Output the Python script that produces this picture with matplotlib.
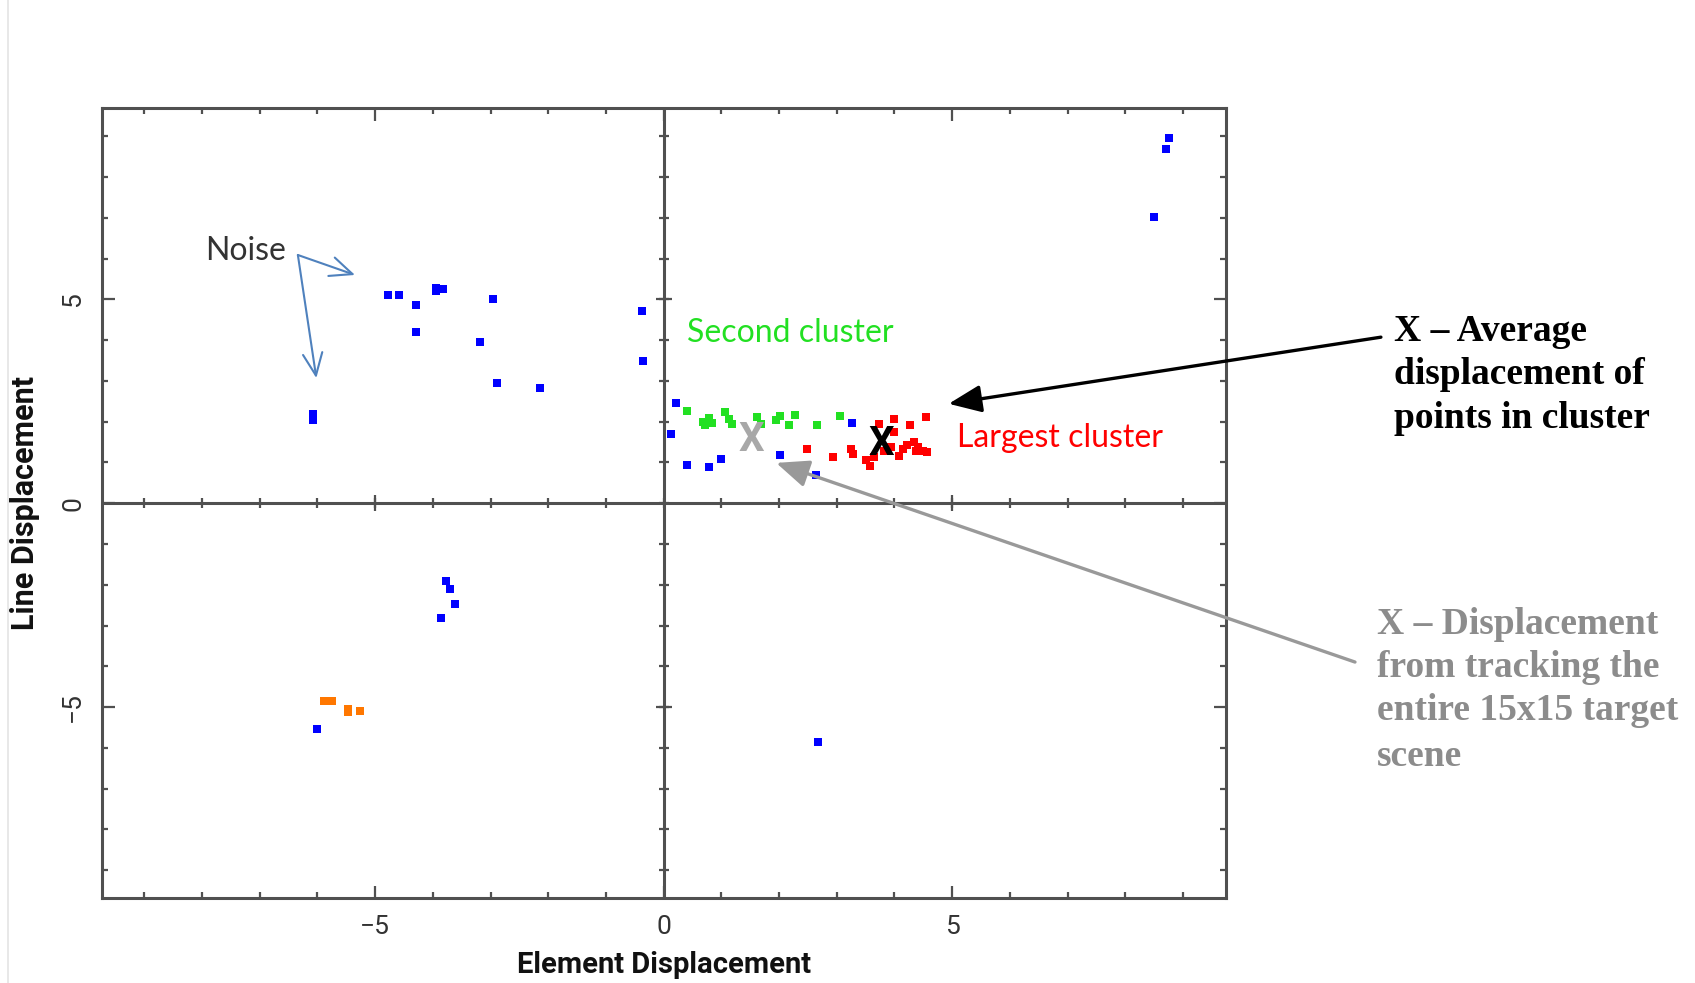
import numpy as np
import matplotlib
matplotlib.use("Agg")
import matplotlib.pyplot as plt
from matplotlib.lines import Line2D

# noise points (blue)
blue_x = [-6.08, -6.08, -4.77, -4.59, -4.30, -4.30, -3.94, -3.82, -3.94, -2.95,
          -3.19, -2.89, -2.14, -0.38, -0.36,
          0.22, 0.13, 0.40, 0.79, 0.99, 2.02, 2.64, 3.26,
          8.76, 8.70, 8.50,
          -3.77, -3.70, -3.62, -3.86, -6.00, 2.68]
blue_y = [2.20, 2.05, 5.11, 5.11, 4.86, 4.19, 5.29, 5.25, 5.20, 5.01,
          3.95, 2.94, 2.82, 4.72, 3.48,
          2.47, 1.70, 0.94, 0.88, 1.09, 1.19, 0.69, 1.97,
          8.97, 8.69, 7.03,
          -1.91, -2.10, -2.48, -2.81, -5.55, -5.85]

# second cluster (green)
green_x = [0.40, 0.68, 0.78, 0.83, 0.72, 1.06, 1.13, 1.19, 1.62, 1.69,
           1.95, 2.02, 2.17, 2.28, 2.65, 3.05]
green_y = [2.26, 2.00, 2.08, 1.98, 1.93, 2.24, 2.07, 1.95, 2.12, 1.95,
           2.05, 2.13, 1.91, 2.16, 1.93, 2.13]

# largest cluster (red)
red_x = [2.48, 2.93, 3.25, 3.28, 3.51, 3.58, 3.64, 3.74, 3.81, 3.94, 3.99,
         4.00, 4.07, 4.14, 4.21, 4.27, 4.34, 4.37, 4.40, 4.50, 4.54, 4.57]
red_y = [1.33, 1.13, 1.33, 1.21, 1.05, 0.92, 1.13, 1.95, 1.29, 1.37, 2.07,
         1.74, 1.17, 1.33, 1.42, 1.91, 1.50, 1.29, 1.37, 1.29, 2.12, 1.25]

# small cluster (orange)
orange_x = [-5.88, -5.75, -5.47, -5.47, -5.27]
orange_y = [-4.84, -4.85, -5.05, -5.12, -5.10]

# cluster average / whole-scene displacement
avg_xy = (3.77, 1.46)
scene_xy = (1.52, 1.54)

axis_col = '#505050'
sans = ['Roboto', 'DejaVu Sans']
label_font = ['Lato', 'DejaVu Sans']
serif = ['Liberation Serif', 'DejaVu Serif']

fig = plt.figure(figsize=(16.95, 9.83), dpi=100)
ax = fig.add_axes([0.06, 0.0862, 0.6631, 0.8037])
ax.set_xlim(-9.74, 9.74)
ax.set_ylim(-9.69, 9.69)

for sp in ax.spines.values():
    sp.set_color(axis_col)
    sp.set_linewidth(2.2)

ax.set_xticks([-5, 0, 5])
ax.set_yticks([-5, 0, 5])
ax.set_xticks(np.arange(-9, 10), minor=True)
ax.set_yticks(np.arange(-9, 10), minor=True)
ax.tick_params(which='both', direction='in', top=True, right=True,
               color=axis_col, width=1.6)
ax.tick_params(which='major', length=9, pad=12, labelsize=19)
ax.tick_params(which='minor', length=4.5)
for lab in ax.get_xticklabels() + ax.get_yticklabels():
    lab.set_family(sans)
    lab.set_color('#333333')
for lab in ax.get_yticklabels():
    lab.set_rotation(90)
    lab.set_va('center')

# centre axes with their own ticks
ax.axhline(0, color=axis_col, lw=2.2, zorder=1)
ax.axvline(0, color=axis_col, lw=2.2, zorder=1)
minor = np.arange(-9, 10)
ax.plot(minor, np.zeros(len(minor)), ls='none', marker='|', ms=7,
        mew=1.6, color=axis_col, zorder=1)
ax.plot(np.zeros(len(minor)), minor, ls='none', marker='_', ms=7,
        mew=1.6, color=axis_col, zorder=1)
ax.plot([-5, 5], [0, 0], ls='none', marker='|', ms=12, mew=1.6,
        color=axis_col, zorder=1)
ax.plot([0, 0], [-5, 5], ls='none', marker='_', ms=12, mew=1.6,
        color=axis_col, zorder=1)

ax.set_xlabel('Element Displacement', fontsize=21, fontweight='bold',
              family=sans, color='#111111')
ax.set_ylabel('Line Displacement', fontsize=22, fontweight='bold',
              family=sans, color='#111111')
ax.xaxis.set_label_coords(0.5, -0.085)
ax.xaxis.label.set_va('center')
ax.yaxis.set_label_coords(-0.068, 0.5)
ax.yaxis.label.set_va('center')

ms = 5.5
ax.plot(blue_x, blue_y, ls='none', marker='s', ms=ms, mew=0, color='#0000ff', zorder=3)
ax.plot(green_x, green_y, ls='none', marker='s', ms=ms, mew=0, color='#22e022', zorder=3)
ax.plot(red_x, red_y, ls='none', marker='s', ms=ms, mew=0, color='#ff0000', zorder=3)
ax.plot(orange_x, orange_y, ls='none', marker='s', ms=ms, mew=0, color='#ff7700', zorder=3)

ax.text(scene_xy[0], scene_xy[1], 'X', ha='center', va='center', fontsize=29,
        fontweight='bold', family=sans, color='#a8a8a8', zorder=4)
ax.text(avg_xy[0], avg_xy[1], 'X', ha='center', va='center', fontsize=29,
        fontweight='bold', family=sans, color='black', zorder=4)

# annotations
ax.text(0.40, 4.18, 'Second cluster', fontsize=23, family=label_font,
        color='#22e022', va='center', ha='left')
ax.text(5.08, 1.61, 'Largest cluster', fontsize=23, family=label_font,
        color='#ff0000', va='center', ha='left')
ax.text(-7.95, 6.19, 'Noise', fontsize=23, family=label_font,
        color='#333333', va='center', ha='left')

noise_col = '#4f81bd'
for end in [(-5.35, 5.60), (-6.02, 3.07)]:
    ax.annotate('', xy=end, xytext=(-6.34, 6.09),
                arrowprops=dict(arrowstyle='->,head_length=0.8,head_width=0.35',
                                color=noise_col, lw=1.5, mutation_scale=20,
                                shrinkA=0, shrinkB=0))

ax.annotate('', xy=(4.94, 2.44), xycoords='data',
            xytext=(0.8147, 0.657), textcoords='figure fraction',
            arrowprops=dict(arrowstyle='-|>,head_length=1.0,head_width=0.42',
                            color='black', lw=2.4, mutation_scale=20,
                            shrinkA=0, shrinkB=0))
ax.annotate('', xy=(1.95, 0.99), xycoords='data',
            xytext=(0.7994, 0.3265), textcoords='figure fraction',
            arrowprops=dict(arrowstyle='-|>,head_length=1.0,head_width=0.42',
                            color='#999999', lw=2.4, mutation_scale=20,
                            shrinkA=0, shrinkB=0))

fig.text(0.8224, 1 - 375 / 983, 'X \u2013 Average\ndisplacement of\npoints in cluster',
         fontsize=27, fontweight='bold', family=serif,
         color='black', ha='left', va='center', linespacing=1.31)
fig.text(0.8124, 1 - 667.5 / 983, 'X \u2013 Displacement\nfrom tracking the\nentire 15x15 target',
         fontsize=27, fontweight='bold', family=serif,
         color='#8c8c8c', ha='left', va='center', linespacing=1.3)
fig.text(0.8124, 1 - 757 / 983, 'scene',
         fontsize=27, fontweight='bold', family=serif,
         color='#8c8c8c', ha='left', va='center')

# faint slide border on the left
fig.add_artist(Line2D([0.0047, 0.0047], [0.0, 1.0], transform=fig.transFigure,
                      color='#e4e4e4', lw=1.2))

fig.savefig('out.png', dpi=100)
